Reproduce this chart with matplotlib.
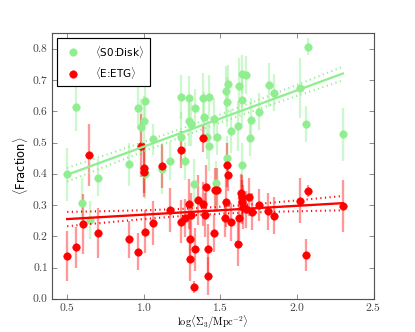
import numpy as np
import matplotlib
matplotlib.use("Agg")
import matplotlib.pyplot as plt
from matplotlib.ticker import FuncFormatter, MultipleLocator

plt.style.use("classic")
plt.rcParams["mathtext.fontset"] = "cm"
plt.rcParams["font.family"] = ["DejaVu Sans"]

# S0:Disk (green) data
disk_x = [0.497, 0.555, 0.598, 0.649, 0.699, 0.905, 0.964, 0.980, 1.001, 1.006,
          1.008, 1.058, 1.119, 1.171, 1.241, 1.245, 1.271, 1.297, 1.297, 1.306,
          1.328, 1.336, 1.388, 1.395, 1.414, 1.423, 1.427, 1.460, 1.471, 1.480,
          1.534, 1.541, 1.541, 1.550, 1.571, 1.613, 1.623, 1.639, 1.639, 1.641,
          1.665, 1.691, 1.702, 1.750, 1.817, 1.852, 2.022, 2.057, 2.074, 2.302]
disk_y = [0.398, 0.613, 0.308, 0.252, 0.388, 0.430, 0.612, 0.549, 0.569, 0.398,
          0.633, 0.510, 0.415, 0.441, 0.647, 0.517, 0.441, 0.643, 0.569, 0.558,
          0.366, 0.610, 0.642, 0.581, 0.517, 0.490, 0.645, 0.574, 0.370, 0.519,
          0.664, 0.631, 0.452, 0.687, 0.538, 0.552, 0.682, 0.719, 0.635, 0.429,
          0.716, 0.516, 0.572, 0.599, 0.684, 0.660, 0.674, 0.559, 0.807, 0.526]
disk_err = [0.085, 0.075, 0.080, 0.060, 0.060, 0.070, 0.070, 0.090, 0.080, 0.080,
            0.070, 0.050, 0.080, 0.060, 0.070, 0.080, 0.060, 0.070, 0.080, 0.070,
            0.080, 0.060, 0.080, 0.080, 0.070, 0.080, 0.070, 0.070, 0.070, 0.060,
            0.080, 0.080, 0.070, 0.060, 0.070, 0.080, 0.090, 0.060, 0.080, 0.070,
            0.060, 0.060, 0.070, 0.060, 0.070, 0.060, 0.096, 0.057, 0.028, 0.085]

# E:ETG (red) data
etg_x = [0.500, 0.555, 0.601, 0.644, 0.699, 0.905, 0.962, 0.980, 1.001, 1.003,
         1.006, 1.062, 1.119, 1.171, 1.245, 1.245, 1.267, 1.297, 1.301, 1.301,
         1.306, 1.328, 1.336, 1.354, 1.384, 1.388, 1.397, 1.407, 1.421, 1.421,
         1.460, 1.465, 1.480, 1.533, 1.537, 1.541, 1.550, 1.571, 1.615, 1.623,
         1.636, 1.639, 1.641, 1.646, 1.667, 1.688, 1.704, 1.750, 1.811, 1.852,
         2.019, 2.057, 2.074, 2.302]
etg_y = [0.137, 0.165, 0.239, 0.461, 0.210, 0.190, 0.151, 0.490, 0.418, 0.405,
         0.215, 0.242, 0.425, 0.284, 0.477, 0.247, 0.258, 0.303, 0.190, 0.126,
         0.268, 0.037, 0.158, 0.316, 0.514, 0.303, 0.268, 0.357, 0.158, 0.073,
         0.210, 0.348, 0.348, 0.258, 0.309, 0.429, 0.396, 0.245, 0.175, 0.258,
         0.340, 0.325, 0.309, 0.293, 0.286, 0.325, 0.279, 0.300, 0.280, 0.266,
         0.314, 0.140, 0.345, 0.297]
etg_err = [0.080, 0.065, 0.095, 0.100, 0.080, 0.060, 0.060, 0.100, 0.080, 0.080,
           0.070, 0.070, 0.070, 0.070, 0.060, 0.070, 0.060, 0.080, 0.070, 0.070,
           0.070, 0.020, 0.070, 0.080, 0.045, 0.070, 0.070, 0.070, 0.080, 0.060,
           0.060, 0.070, 0.070, 0.060, 0.080, 0.070, 0.050, 0.060, 0.070, 0.070,
           0.060, 0.070, 0.070, 0.070, 0.060, 0.060, 0.060, 0.050, 0.060, 0.060,
           0.072, 0.050, 0.020, 0.083]

# Fit parameters (slope, intercept, band half-width mid/end)
disk_fit = (0.180, 0.307)
etg_fit = (0.0283, 0.241)
disk_band = (0.013, 0.022)
etg_band = (0.011, 0.023)
fit_range = (0.5, 2.3)

fig = plt.figure(figsize=(5, 4), dpi=83)
fig.patch.set_facecolor("white")
ax = fig.add_subplot(111)

ax.errorbar(disk_x, disk_y, yerr=disk_err, fmt="none", ecolor="lightgreen",
            elinewidth=2, alpha=0.45, capsize=0, zorder=1)
ax.errorbar(etg_x, etg_y, yerr=etg_err, fmt="none", ecolor="red",
            elinewidth=2, alpha=0.4, capsize=0, zorder=1)
ax.plot(disk_x, disk_y, "o", color="lightgreen", mec="lightgreen", ms=6.5,
        zorder=2, label=r"$\langle$S0:Disk$\rangle$")
ax.plot(etg_x, etg_y, "o", color="red", mec="red", ms=6.5, zorder=3,
        label=r"$\langle$E:ETG$\rangle$")

xf = np.linspace(fit_range[0], fit_range[1], 100)
xm = 0.5 * (fit_range[0] + fit_range[1])
for (m, b), (hmid, hend), col in [(disk_fit, disk_band, "lightgreen"),
                                  (etg_fit, etg_band, "red")]:
    yf = m * xf + b
    c = np.sqrt(hend ** 2 - hmid ** 2) / (fit_range[1] - xm)
    half = np.sqrt(hmid ** 2 + (c * (xf - xm)) ** 2)
    ax.plot(xf, yf, "-", color=col, lw=2, zorder=4)
    ax.plot(xf, yf + half, ":", color=col, lw=1.8, zorder=4)
    ax.plot(xf, yf - half, ":", color=col, lw=1.8, zorder=4)

ax.set_xlim(0.4, 2.5)
ax.set_ylim(0.0, 0.85)
ax.xaxis.set_major_locator(MultipleLocator(0.5))
ax.yaxis.set_major_locator(MultipleLocator(0.1))
ax.xaxis.set_major_formatter(FuncFormatter(lambda v, p: r"$%.1f$" % v))
ax.yaxis.set_major_formatter(FuncFormatter(lambda v, p: r"$%.1f$" % v))
ax.tick_params(labelsize=10, colors="#444444")
ax.tick_params(axis="x", pad=2)
ax.tick_params(axis="y", pad=3)
for s in ax.spines.values():
    s.set_color("#555555")

ax.set_xlabel(r"$\mathrm{log}\langle\Sigma_3/\mathrm{Mpc}^{-2}\rangle$",
              fontsize=9)
ax.xaxis.set_label_coords(0.5, -0.057)
ax.set_ylabel(r"$\langle$Fraction$\rangle$", fontsize=10, labelpad=2)

leg = ax.legend(loc="upper left", numpoints=1, fontsize=9, frameon=True,
                fancybox=False, handletextpad=1.2, borderpad=0.5)
leg.get_frame().set_edgecolor("black")

fig.subplots_adjust(left=0.125, right=0.9, bottom=0.1, top=0.9)
fig.savefig("out.png", dpi=83, facecolor="white")
